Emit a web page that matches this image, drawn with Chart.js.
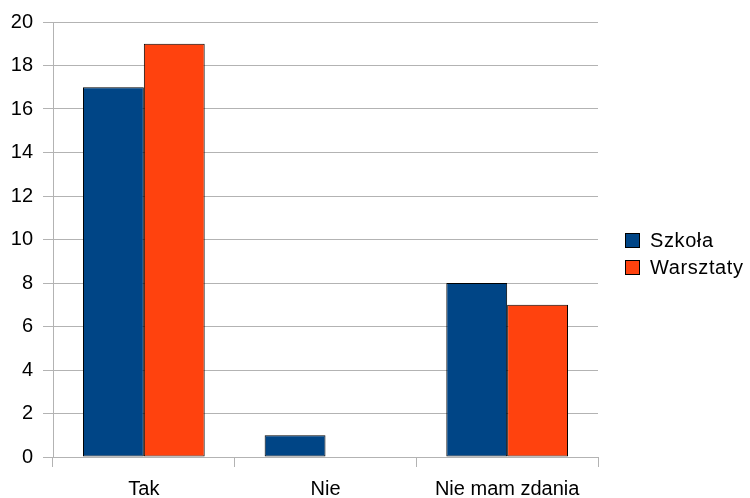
<!DOCTYPE html>
<html><head><meta charset="utf-8">
<script src="https://cdn.jsdelivr.net/npm/chart.js@4/dist/chart.umd.min.js"></script>
<style>
html,body{margin:0;padding:0;background:#fff;}
#wrap{position:relative;width:750px;height:498px;}
#legend{position:absolute;left:625px;top:227px;font-family:"Liberation Sans",Arial,sans-serif;font-size:20px;letter-spacing:0.6px;color:#000;}
.li{display:flex;align-items:center;height:27px;}
.sw{width:13px;height:13px;border:1px solid #000;margin-right:10px;box-sizing:content-box;}
</style></head>
<body><div id="wrap"><canvas id="c" width="750" height="498"></canvas><div id="legend"></div></div>
<script>
const categories = ["Tak", "Nie", "Nie mam zdania"];
const seriesNames = ["Szkoła", "Warsztaty"];
const szkola = [17, 1, 8];
const warsztaty = [19, 0, 7];
const colors = ["#004586", "#ff420e"];

const leg = document.getElementById('legend');
seriesNames.forEach((n,i)=>{
  const d=document.createElement('div');d.className='li';
  d.innerHTML='<span class="sw" style="background:'+colors[i]+'"></span><span>'+n+'</span>';
  leg.appendChild(d);
});

const FONT = '"Liberation Sans", Arial, sans-serif';
new Chart(document.getElementById('c'), {
  type: 'bar',
  data: {
    labels: categories,
    datasets: [
      {label: seriesNames[0], data: szkola, backgroundColor: colors[0], borderColor: '#000', borderWidth: 1, borderSkipped: false},
      {label: seriesNames[1], data: warsztaty, backgroundColor: colors[1], borderColor: '#000', borderWidth: 1, borderSkipped: false}
    ]
  },
  options: {
    responsive: false,
    animation: false,
    layout: {padding: {left: 0, top: 22, right: 152, bottom: 0}},
    plugins: {legend: {display: false}, tooltip: {enabled: false}},
    datasets: {bar: {categoryPercentage: 0.67, barPercentage: 1}},
    scales: {
      x: {
        grid: {offset: true, drawOnChartArea: false, color: '#b3b3b3', tickLength: 10},
        border: {color: '#b3b3b3'},
        ticks: {color: '#000', font: {family: FONT, size: 20}, padding: 10, maxRotation: 0},
        afterFit: s => { s.height = 41; }
      },
      y: {
        min: 0, max: 20,
        ticks: {stepSize: 2, color: '#000', font: {family: FONT, size: 20}, padding: 10},
        grid: {color: '#b3b3b3', tickLength: 10},
        border: {color: '#b3b3b3'},
        afterFit: s => { s.width = 53; }
      }
    }
  }
});
</script></body></html>
